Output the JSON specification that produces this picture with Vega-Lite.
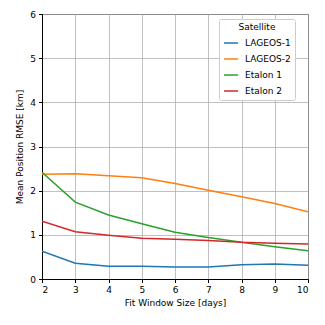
{
  "$schema": "https://vega.github.io/schema/vega-lite/v6.json",
  "autosize": {"type": "none"},
  "width": 266,
  "height": 265,
  "padding": {"left": 42, "top": 14, "right": 17, "bottom": 46},
  "background": "white",
  "config": {
    "font": "DejaVu Sans",
    "view": {"stroke": "black", "strokeWidth": 1},
    "axis": {
      "labelFont": "DejaVu Sans", "titleFont": "DejaVu Sans",
      "labelFontSize": 9, "titleFontSize": 9, "titleFontWeight": "normal",
      "labelColor": "black", "titleColor": "black",
      "domainColor": "black", "tickColor": "black", "tickSize": 3.5,
      "gridColor": "#b0b0b0", "gridWidth": 0.8, "gridOpacity": 1
    },
    "legend": {
      "labelFont": "DejaVu Sans", "titleFont": "DejaVu Sans",
      "labelFontSize": 9, "titleFontSize": 9, "titleFontWeight": "normal",
      "labelColor": "black", "titleColor": "black"
    }
  },
  "data": {
    "values": [
      {"window": 2, "sat": "LAGEOS-1", "rmse": 0.63},
      {"window": 3, "sat": "LAGEOS-1", "rmse": 0.355},
      {"window": 4, "sat": "LAGEOS-1", "rmse": 0.29},
      {"window": 5, "sat": "LAGEOS-1", "rmse": 0.29},
      {"window": 6, "sat": "LAGEOS-1", "rmse": 0.27},
      {"window": 7, "sat": "LAGEOS-1", "rmse": 0.27},
      {"window": 8, "sat": "LAGEOS-1", "rmse": 0.32},
      {"window": 9, "sat": "LAGEOS-1", "rmse": 0.34},
      {"window": 10, "sat": "LAGEOS-1", "rmse": 0.31},
      {"window": 2, "sat": "LAGEOS-2", "rmse": 2.37},
      {"window": 3, "sat": "LAGEOS-2", "rmse": 2.385},
      {"window": 4, "sat": "LAGEOS-2", "rmse": 2.34},
      {"window": 5, "sat": "LAGEOS-2", "rmse": 2.29},
      {"window": 6, "sat": "LAGEOS-2", "rmse": 2.16},
      {"window": 7, "sat": "LAGEOS-2", "rmse": 2.01},
      {"window": 8, "sat": "LAGEOS-2", "rmse": 1.86},
      {"window": 9, "sat": "LAGEOS-2", "rmse": 1.71},
      {"window": 10, "sat": "LAGEOS-2", "rmse": 1.52},
      {"window": 2, "sat": "Etalon 1", "rmse": 2.415},
      {"window": 3, "sat": "Etalon 1", "rmse": 1.74},
      {"window": 4, "sat": "Etalon 1", "rmse": 1.45},
      {"window": 5, "sat": "Etalon 1", "rmse": 1.25},
      {"window": 6, "sat": "Etalon 1", "rmse": 1.06},
      {"window": 7, "sat": "Etalon 1", "rmse": 0.94},
      {"window": 8, "sat": "Etalon 1", "rmse": 0.83},
      {"window": 9, "sat": "Etalon 1", "rmse": 0.73},
      {"window": 10, "sat": "Etalon 1", "rmse": 0.64},
      {"window": 2, "sat": "Etalon 2", "rmse": 1.31},
      {"window": 3, "sat": "Etalon 2", "rmse": 1.07},
      {"window": 4, "sat": "Etalon 2", "rmse": 0.99},
      {"window": 5, "sat": "Etalon 2", "rmse": 0.92},
      {"window": 6, "sat": "Etalon 2", "rmse": 0.90},
      {"window": 7, "sat": "Etalon 2", "rmse": 0.87},
      {"window": 8, "sat": "Etalon 2", "rmse": 0.83},
      {"window": 9, "sat": "Etalon 2", "rmse": 0.81},
      {"window": 10, "sat": "Etalon 2", "rmse": 0.79}
    ]
  },
  "mark": {"type": "line", "strokeWidth": 1.5, "clip": true},
  "encoding": {
    "x": {
      "field": "window", "type": "quantitative",
      "scale": {"domain": [2, 10], "nice": false},
      "axis": {"title": "Fit Window Size [days]", "values": [2,3,4,5,6,7,8,9,10], "titlePadding": 4, "labelPadding": 3}
    },
    "y": {
      "field": "rmse", "type": "quantitative",
      "scale": {"domain": [0, 6], "nice": false},
      "axis": {"title": "Mean Position RMSE [km]", "values": [0,1,2,3,4,5,6], "titlePadding": 5, "labelPadding": 3}
    },
    "color": {
      "field": "sat", "type": "nominal",
      "scale": {"domain": ["LAGEOS-1", "LAGEOS-2", "Etalon 1", "Etalon 2"], "range": ["#1f77b4", "#ff7f0e", "#2ca02c", "#d62728"]},
      "legend": {
        "title": "Satellite", "orient": "none", "legendX": 177, "legendY": 5,
        "titleAnchor": "middle", "symbolType": "stroke", "symbolStrokeWidth": 1.5, "symbolSize": 200,
        "fillColor": "white", "strokeColor": "#cccccc", "cornerRadius": 2, "padding": 4,
        "rowPadding": 3, "titlePadding": 3, "labelOffset": 6
      }
    }
  }
}
